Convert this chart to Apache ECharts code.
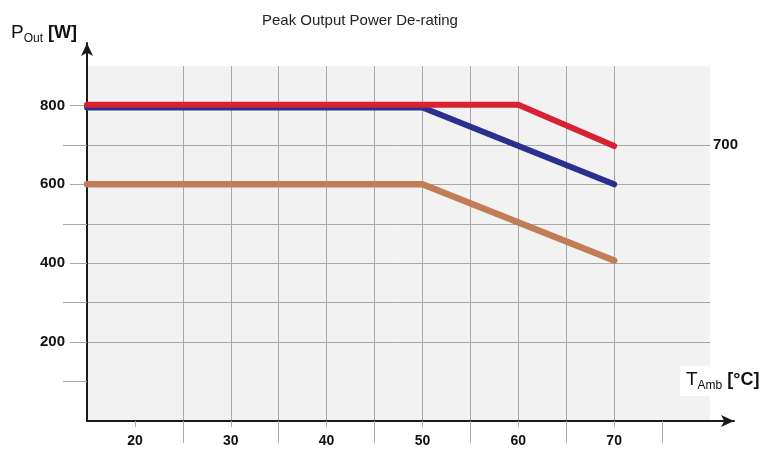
<!DOCTYPE html>
<html>
<head>
<meta charset="utf-8">
<script src="https://cdn.jsdelivr.net/npm/echarts@6/dist/echarts.min.js"></script>
<style>html,body{margin:0;padding:0;background:#fff;}#c{width:760px;height:451px;}</style>
</head>
<body>
<div id="c"></div>
<script>
// Data
var redTemp = [15, 60, 70];
var redPower = [802, 802, 697];
var blueTemp = [15, 50, 70];
var bluePower = [795, 795, 600];
var brownTemp = [15, 50, 70];
var brownPower = [600, 600, 407];
var xTickValues = [20, 25, 30, 35, 40, 45, 50, 55, 60, 65, 70, 75];
var xLabelValues = [20, 30, 40, 50, 60, 70];
var yTickValues = [100, 200, 300, 400, 500, 600, 700, 800];
var yLabelValues = [200, 400, 600, 800];
var rightLabelValues = [700];

function pairs(xs, ys) { return xs.map(function (x, i) { return [x, ys[i]]; }); }

var font = 'Liberation Sans, Arial, sans-serif';
var gridColor = '#a8a8a8';
var richName = {
  p: { fontFamily: font, fontSize: 19, fontWeight: 'normal', color: '#111', verticalAlign: 'bottom', padding: [0, 0, 3, 0] },
  s: { fontFamily: font, fontSize: 12, fontWeight: 'normal', color: '#111', verticalAlign: 'bottom' },
  b: { fontFamily: font, fontSize: 18, fontWeight: 'bold', color: '#111', verticalAlign: 'bottom', padding: [0, 0, 3, 0] }
};

var chart = echarts.init(document.getElementById('c'));
chart.setOption({
  animation: false,
  title: [
    { text: 'Peak Output Power De-rating', left: 257, top: 8,
      textStyle: { fontFamily: font, fontSize: 15, fontWeight: 'normal', color: '#222' } },
    { text: '{p|P}{s|Out}{b| [W]}', left: 6, top: 18, textStyle: { fontWeight: 'normal', rich: richName } },
    { text: '{p|T}{s|Amb}{b| [°C]}', left: 680, top: 366, backgroundColor: '#fff', padding: [4, 4, 4, 6],
      textStyle: { fontWeight: 'normal', rich: richName } }
  ],
  grid: [
    { left: 87, right: 50, top: 66, bottom: 30, show: true, backgroundColor: '#f2f2f2', borderWidth: 0 },
    { left: 87, right: 26, top: 43, bottom: 30, show: false }
  ],
  xAxis: [
    { type: 'value', gridIndex: 0, min: 15, max: 80, interval: 5,
      axisLine: { show: false },
      axisTick: { show: true, length: 22, customValues: xTickValues, lineStyle: { color: gridColor, width: 1 } },
      axisLabel: { show: true, customValues: xLabelValues, margin: 6, backgroundColor: '#fff', padding: [7, 3, 2, 3],
        fontFamily: font, fontSize: 14, fontWeight: 'bold', color: '#111' },
      splitLine: { show: true, showMinLine: false, showMaxLine: false, lineStyle: { color: gridColor, width: 1 } } },
    { type: 'value', gridIndex: 1, min: 0, max: 1,
      axisLine: { show: true, onZero: false, symbol: ['none', 'arrow'], symbolSize: [9, 13], lineStyle: { color: '#1a1a1a', width: 2 } },
      axisTick: { show: false }, axisLabel: { show: false }, splitLine: { show: false } }
  ],
  yAxis: [
    { type: 'value', gridIndex: 0, min: 0, max: 900, interval: 100,
      axisLine: { show: false },
      axisTick: { show: true, length: 24, customValues: yTickValues, lineStyle: { color: gridColor, width: 1 } },
      axisLabel: { show: true, customValues: yLabelValues, margin: 17, backgroundColor: '#fff', padding: [2, 5, 2, 3],
        fontFamily: font, fontSize: 15, fontWeight: 'bold', color: '#111' },
      splitLine: { show: true, showMinLine: false, showMaxLine: false, lineStyle: { color: gridColor, width: 1 } } },
    { type: 'value', gridIndex: 0, min: 0, max: 900, interval: 100, position: 'right',
      axisLine: { show: false }, axisTick: { show: false }, splitLine: { show: false },
      axisLabel: { show: true, customValues: rightLabelValues, margin: 3,
        fontFamily: font, fontSize: 15, fontWeight: 'bold', color: '#111' } },
    { type: 'value', gridIndex: 1, min: 0, max: 1,
      axisLine: { show: true, onZero: false, symbol: ['none', 'arrow'], symbolSize: [9, 13], lineStyle: { color: '#1a1a1a', width: 2 } },
      axisTick: { show: false }, axisLabel: { show: false }, splitLine: { show: false } }
  ],
  series: [
    { type: 'line', xAxisIndex: 0, yAxisIndex: 0, data: pairs(brownTemp, brownPower), showSymbol: false,
      lineStyle: { color: '#c27d56', width: 6.5, cap: 'round', join: 'round' }, z: 3 },
    { type: 'line', xAxisIndex: 0, yAxisIndex: 0, data: pairs(blueTemp, bluePower), showSymbol: false,
      lineStyle: { color: '#2b2f8e', width: 6, cap: 'round', join: 'round' }, z: 3 },
    { type: 'line', xAxisIndex: 0, yAxisIndex: 0, data: pairs(redTemp, redPower), showSymbol: false,
      lineStyle: { color: '#d92231', width: 6, cap: 'round', join: 'round' }, z: 4 }
  ]
});
</script>
</body>
</html>
